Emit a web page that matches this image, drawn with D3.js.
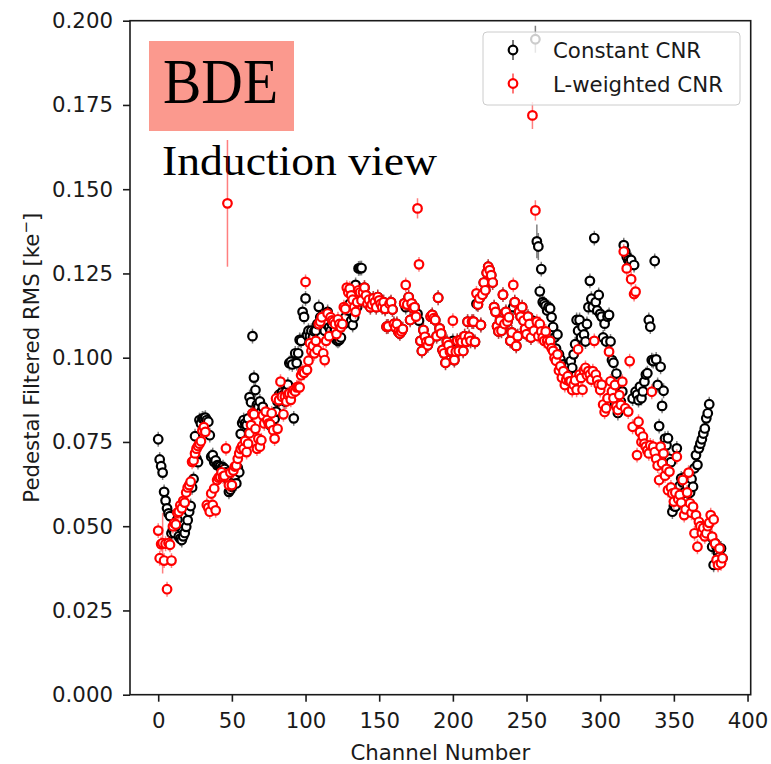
<!DOCTYPE html>
<html><head><meta charset="utf-8">
<script src="https://cdn.jsdelivr.net/npm/d3@7"></script>
<style>body{margin:0;background:#fff}</style>
</head><body><svg id="c" width="771" height="764"></svg>
<script>
// Channel-by-channel pedestal filtered RMS [ke-]
const constantCNR = [
.0758,.0698,.0678,.0659,.0602,.0576,.0553,.0538,.0530,.0479,
.0490,.0480,.0500,.0520,.0470,.0463,.0459,.0470,.0480,.0498,
.0518,.0543,.0560,.0615,.0640,.0767,.0700,.0690,.0815,.0805,
.0820,.0818,.0822,.0815,.0810,.0770,.0706,.0711,.0691,.0695,
.0681,.0680,.0677,.0672,.0675,.0670,.0660,.0640,.0602,.0608,
.0617,.0630,.0650,.0627,.0673,.0660,.0774,.0806,.0815,.0805,
.0800,.0820,.0883,.0868,.1064,.0941,.0904,.0860,.0854,.0870,
.0840,.0854,.0830,.0820,.0825,.0810,.0800,.0818,.0790,.0818,
.0840,.0870,.0890,.0880,.0897,.0890,.0870,.0900,.0920,.0984,
.0988,.0980,.0820,.1013,.0984,.1013,.1053,.1050,.1136,.1121,
.1176,.1067,.1080,.1064,.1080,.1060,.1078,.1080,.1100,.1151,
.1120,.1100,.1107,.1080,.1100,.1136,.1090,.1080,.1100,.1064,
.1080,.1053,.1050,.1053,.1060,.1100,.1100,.1120,.1150,.1140,
.1160,.1110,.1097,.1120,.1216,.1150,.1265,.1266,.1266,.1180,
.1208,.1185,.1160,.1172,.1150,.1158,.1176,.1165,.1150,.1180,
.1170,.1160,.1150,.1165,.1145,.1092,.1093,.1160,.1165,.1143,
.1100,.1090,.1100,.1077,.1072,.1078,.1085,.1161,.1150,.1158,
.1180,.1112,.1161,.1147,.1150,.1122,.1130,.1110,.1050,.1020,
.1082,.1062,.1047,.1037,.1050,.1122,.1127,.1117,.1112,.1064,
.1178,.1087,.1072,.1023,.1013,.0985,.1047,.1037,.1018,.1020,
.1050,.0993,.1018,.1050,.1020,.1052,.1047,.1020,.1064,.1047,
.1107,.1062,.1050,.1107,.1107,.1047,.1160,.1158,.1176,.1097,
.1187,.1223,.1200,.1252,.1270,.1260,.1245,.1223,.1150,.1136,
.1093,.1078,.1110,.1080,.1187,.1100,.1136,.1107,.1120,.1050,
.1075,.1150,.1165,.1035,.1064,.1136,.1122,.1150,.1110,.1085,
.1070,.1122,.1100,.1060,.1110,.1080,.1945,.1345,.1330,.1197,
.1263,.1165,.1160,.1154,.1140,.1150,.1146,.1120,.1091,.1060,
.1027,.1069,.1010,.0995,.0969,.0980,.0960,.0975,.0950,.0980,
.0990,.0970,.1010,.1040,.1112,.1080,.1112,.1060,.1091,.1069,
.1048,.1100,.1150,.1228,.1175,.1150,.1355,.1165,.1140,.1186,
.1130,.1122,.1060,.1101,.1048,.1122,.1127,.1048,.0993,.0985,
.0863,.0953,.0836,.0850,.0870,.0900,.1334,.1315,.1300,.1290,
.1285,.1290,.0879,.1275,.0899,.0890,.0874,.0914,.0880,.0900,
.0929,.0950,.0954,.1112,.1092,.0993,.0990,.1287,.0995,.0919,
.0797,.0973,.0857,.0902,.0760,.0740,.0761,.0700,.0690,.0543,
.0560,.0558,.0731,.0600,.0620,.0642,.0630,.0600,.0647,.0620,
.0597,.0600,.0640,.0617,.0672,.0711,.0682,.0731,.0745,.0758,
.0775,.0790,.0820,.0835,.0862,.0469,.0439,.0385,.0450,.0440,
.0420,.0410,.0434,.0405
];
const weightedCNR = [
.0487,.0405,.0447,.0450,.0398,.0448,.0313,.0450,.0445,.0398,
.0500,.0509,.0505,.0540,.0543,.0562,.0553,.0575,.0570,.0600,
.0615,.0622,.0632,.0691,.0695,.0716,.0730,.0738,.0745,.0752,
.0784,.0794,.0780,.0563,.0555,.0543,.0597,.0563,.0612,.0547,
.0637,.0644,.0647,.0660,.0647,.0650,.0731,.1458,.0622,.0659,
.0622,.0665,.0677,.0680,.0700,.0716,.0729,.0738,.0730,.0753,
.0720,.0745,.0776,.0800,.0835,.0832,.0789,.0730,.0760,.0736,
.0755,.0829,.0805,.0840,.0815,.0805,.0803,.0835,.0785,.0760,
.0879,.0789,.0874,.0929,.0884,.0832,.0884,.0870,.0890,.0894,
.0875,.0894,.0904,.0900,.0912,.0914,.0912,.0948,.0959,.0955,
.1225,.0964,.0991,.1043,.1020,.1035,.1013,.1050,.1023,.1100,
.1107,.1120,.1013,.0993,.1050,.1131,.1064,.1120,.1111,.1107,
.1100,.1070,.1114,.1100,.1090,.1100,.1150,.1145,.1208,.1194,
.1205,.1185,.1172,.1150,.1136,.1165,.1200,.1194,.1170,.1194,
.1208,.1185,.1160,.1172,.1150,.1158,.1176,.1165,.1150,.1180,
.1170,.1160,.1150,.1165,.1145,.1092,.1093,.1160,.1165,.1143,
.1100,.1090,.1100,.1077,.1072,.1078,.1085,.1161,.1216,.1158,
.1180,.1112,.1161,.1147,.1150,.1122,.1443,.1277,.1050,.1020,
.1082,.1062,.1047,.1037,.1050,.1122,.1127,.1117,.1112,.1064,
.1178,.1087,.1072,.1023,.1013,.0985,.1047,.1037,.1018,.1020,
.1110,.0993,.1018,.1050,.1020,.1052,.1047,.1020,.1064,.1047,
.1107,.1062,.1050,.1107,.1107,.1047,.1191,.1158,.1176,.1097,
.1187,.1223,.1200,.1252,.1270,.1260,.1245,.1223,.1150,.1136,
.1093,.1078,.1110,.1080,.1187,.1100,.1136,.1107,.1120,.1050,
.1075,.1216,.1165,.1035,.1064,.1136,.1122,.1150,.1110,.1085,
.1070,.1122,.1100,.1060,.1719,.1080,.1437,.1107,.1064,.1100,
.1078,.1060,.1050,.1078,.1050,.1040,.1050,.1028,.1020,.1000,
.0991,.1010,.0962,.0975,.0941,.0960,.0919,.0935,.0945,.0930,
.0930,.0904,.0920,.0933,.0905,.1025,.0950,.0940,.0905,.0962,
.0970,.0948,.0960,.0950,.0935,.0960,.1050,.0950,.0933,.0920,
.0904,.0920,.0861,.0839,.0850,.0880,.1018,.0930,.0900,.0880,
.0919,.0855,.0845,.0889,.0860,.0929,.1315,.0850,.1265,.0840,
.0990,.1233,.0795,.1189,.1196,.0711,.0810,.0780,.0750,.0766,
.0745,.0736,.0725,.0716,.0740,.0899,.0736,.0720,.0700,.0680,
.0637,.0736,.0687,.0716,.0650,.0670,.0607,.0662,.0615,.0597,
.0573,.0600,.0706,.0580,.0593,.0570,.0637,.0533,.0550,.0600,
.0659,.0568,.0540,.0558,.0479,.0533,.0439,.0513,.0500,.0480,
.0495,.0470,.0479,.0500,.0510,.0533,.0469,.0520,.0449,.0400,
.0385,.0434,.0390,.0405
];
const defaultErr = 0.0022;
const constantErrOverrides = [[256, 0.004], [257, 0.005], [258, 0.004]];
const weightedErrOverrides = [[3, 0.009], [47, 0.0188], [176, 0.003], [254, 0.004], [256, 0.003]];
const seriesNames = ["Constant CNR", "L-weighted CNR"];
const seriesColors = ["#000000", "#ff0000"];
const xTicks = [0, 50, 100, 150, 200, 250, 300, 350, 400];
const yTicks = [0, 0.025, 0.05, 0.075, 0.1, 0.125, 0.15, 0.175, 0.2];

const L = 130, R = 750.7, T = 20.7, B = 694.7;
const FONT = "DejaVu Sans, sans-serif";
const FS = 21.3;
const MR = 4.3, MSW = 2.2;
const svg = d3.select("#c");

const x = d3.scaleLinear().domain([-19.15, 402.15]).range([L, R]);
const y = d3.scaleLinear().domain([0, 0.2]).range([B, T]);

svg.append("defs").append("clipPath").attr("id", "clip")
  .append("rect").attr("x", L).attr("y", T).attr("width", R - L).attr("height", B - T);

// annotation box & text
const ann = svg.append("g");
ann.append("rect").attr("x", 149).attr("y", 41).attr("width", 145).attr("height", 90)
  .attr("fill", "#fb998e");
ann.append("text").attr("x", 163).attr("y", 103).attr("font-family", "Liberation Serif, serif")
  .attr("font-size", 64).attr("textLength", 115).attr("lengthAdjust", "spacingAndGlyphs")
  .attr("fill", "#000").text("BDE");
ann.append("text").attr("x", 162).attr("y", 175).attr("font-family", "Liberation Serif, serif")
  .attr("font-size", 43).attr("textLength", 275).attr("lengthAdjust", "spacingAndGlyphs")
  .attr("fill", "#000").text("Induction view");

const plot = svg.append("g").attr("clip-path", "url(#clip)");
function drawSeries(vals, overrides, color) {
  const em = new Map(overrides);
  const data = vals.map((v, i) => ({ c: i, v: v, e: em.has(i) ? em.get(i) : defaultErr }));
  const g = plot.append("g");
  g.selectAll("line").data(data).enter().append("line")
    .attr("x1", d => x(d.c)).attr("x2", d => x(d.c))
    .attr("y1", d => y(d.v - d.e)).attr("y2", d => y(d.v + d.e))
    .attr("stroke", color).attr("stroke-opacity", 0.5).attr("stroke-width", 1.5);
  g.selectAll("circle").data(data).enter().append("circle")
    .attr("cx", d => x(d.c)).attr("cy", d => y(d.v)).attr("r", MR)
    .attr("fill", "#fff").attr("stroke", color).attr("stroke-width", MSW);
}
drawSeries(constantCNR, constantErrOverrides, seriesColors[0]);
drawSeries(weightedCNR, weightedErrOverrides, seriesColors[1]);

// axes
const xAxis = svg.append("g").attr("transform", `translate(0,${B})`)
  .call(d3.axisBottom(x).tickValues(xTicks).tickSize(7).tickPadding(11).tickFormat(d3.format("d")));
const yAxis = svg.append("g").attr("transform", `translate(${L},0)`)
  .call(d3.axisLeft(y).tickValues(yTicks).tickSize(7).tickPadding(10).tickFormat(d3.format(".3f")));
[xAxis, yAxis].forEach(a => {
  a.select(".domain").remove();
  a.selectAll(".tick line").attr("stroke", "#1a1a1a").attr("stroke-width", 1.6);
  a.selectAll(".tick text").attr("font-family", FONT).attr("font-size", FS).attr("fill", "#1a1a1a");
});
svg.append("rect").attr("x", L).attr("y", T).attr("width", R - L).attr("height", B - T)
  .attr("fill", "none").attr("stroke", "#1a1a1a").attr("stroke-width", 1.6);

// axis labels
svg.append("text").attr("x", (L + R) / 2).attr("y", 760).attr("text-anchor", "middle")
  .attr("font-family", FONT).attr("font-size", FS).attr("fill", "#1a1a1a").text("Channel Number");
const yl = svg.append("text").attr("transform", `translate(38.5,${(T + B) / 2}) rotate(-90)`)
  .attr("text-anchor", "middle").attr("font-family", FONT).attr("font-size", FS).attr("fill", "#1a1a1a");
yl.append("tspan").text("Pedestal Filtered RMS [ke");
yl.append("tspan").attr("dy", -8).attr("font-size", 15).text("\u2212");
yl.append("tspan").attr("dy", 8).text("]");

// legend
const lg = svg.append("g");
lg.append("rect").attr("x", 483).attr("y", 32).attr("width", 257).attr("height", 73).attr("rx", 4)
  .attr("fill", "#fff").attr("fill-opacity", 0.8).attr("stroke", "#cccccc").attr("stroke-width", 1);
seriesNames.forEach((name, i) => {
  const cy = 50 + i * 33.5;
  lg.append("line").attr("x1", 513).attr("x2", 513).attr("y1", cy - 10).attr("y2", cy + 10)
    .attr("stroke", seriesColors[i]).attr("stroke-opacity", 0.7).attr("stroke-width", 1.5);
  lg.append("circle").attr("cx", 513).attr("cy", cy).attr("r", MR)
    .attr("fill", "#fff").attr("stroke", seriesColors[i]).attr("stroke-width", MSW);
  lg.append("text").attr("x", 553).attr("y", cy + 8).attr("font-family", FONT).attr("font-size", FS)
    .attr("fill", "#1a1a1a").text(name);
});
</script>
</body></html>
